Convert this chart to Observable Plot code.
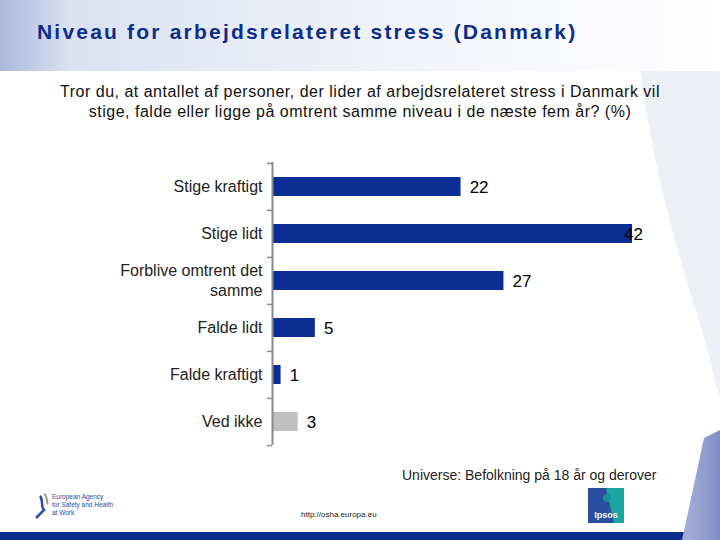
<!DOCTYPE html>
<html>
<head>
<meta charset="utf-8">
<script src="https://cdn.jsdelivr.net/npm/d3@7"></script>
<script src="https://cdn.jsdelivr.net/npm/@observablehq/plot@0.6"></script>
<style>
  html, body { margin: 0; padding: 0; }
  body { width: 720px; height: 540px; position: relative; overflow: hidden; background: #fff; font-family: "Liberation Sans", Arial, sans-serif; }
  #bg { position: absolute; left: 0; top: 0; }
  .abs { position: absolute; }
  #title { left: 37px; top: 20px; font-size: 21px; letter-spacing: 2.2px; font-weight: bold; color: #0b2d8c; white-space: nowrap; }
  #subtitle { left: 0; width: 720px; top: 82px; text-align: center; font-size: 16px; letter-spacing: 0.5px; line-height: 20px; color: #111; }
  #chart { left: 0; top: 150px; }
  #universe { left: 402px; top: 467px; font-size: 14px; color: #222; white-space: nowrap; }
  #url { left: 301px; top: 510px; font-size: 8px; color: #222; }
</style>
</head>
<body>
<svg id="bg" width="720" height="540">
  <defs>
    <linearGradient id="hdr" x1="0" x2="1" y1="0" y2="0">
      <stop offset="0" stop-color="#aab8dc"/>
      <stop offset="0.1" stop-color="#dce2f2"/>
      <stop offset="0.6" stop-color="#f3f5fb"/>
      <stop offset="1" stop-color="#ffffff"/>
    </linearGradient>
    <linearGradient id="corner" x1="0" x2="1" y1="0" y2="0">
      <stop offset="0" stop-color="#a6b1da"/>
      <stop offset="1" stop-color="#7f8fc6"/>
    </linearGradient>
  </defs>
  <rect x="0" y="0" width="720" height="71" fill="url(#hdr)"/>
  <path d="M640,71 C655,180 680,260 705,340 L720,400 L720,71 Z" fill="#eef0f8"/>
  <rect x="0" y="532" width="720" height="8" fill="#0a2d8c"/>
  <path d="M704,438 L720,430 L720,540 L682,540 Z" fill="url(#corner)"/>
  <!-- Ipsos logo -->
  <rect x="588" y="488" width="36" height="35" fill="#2a4ea0"/>
  <path d="M606,488 L624,488 L624,523 L614,523 Z" fill="#1aa6a0"/>
  <circle cx="607" cy="498" r="4" fill="#1a8f99"/>
  <text x="606" y="518" font-size="9" font-weight="bold" fill="#fff" text-anchor="middle" font-family="Liberation Sans">Ipsos</text>
  <!-- EU-OSHA mark -->
  <path d="M40,496 C44,500 40,506 44,510 C40,514 38,516 36,518" stroke="#2a4ea0" stroke-width="2.5" fill="none"/>
  <path d="M44,494 C48,496 46,502 48,504" stroke="#999" stroke-width="2" fill="none"/>
  <text x="52" y="499" font-size="6.5" fill="#2a4ea0" font-family="Liberation Sans">European Agency</text>
  <text x="52" y="507" font-size="6.5" fill="#2a4ea0" font-family="Liberation Sans">for Safety and Health</text>
  <text x="52" y="515" font-size="6.5" fill="#2a4ea0" font-family="Liberation Sans">at Work</text>
</svg>
<div id="title" class="abs">Niveau for arbejdsrelateret stress (Danmark)</div>
<div id="subtitle" class="abs">Tror du, at antallet af personer, der lider af arbejdsrelateret stress i Danmark vil<br>stige, falde eller ligge på omtrent samme niveau i de næste fem år? (%)</div>
<div id="chart" class="abs"></div>
<div id="universe" class="abs">Universe: Befolkning på 18 år og derover</div>
<div id="url" class="abs">http://osha.europa.eu</div>
<script>
const categories = ["Stige kraftigt", "Stige lidt", "Forblive omtrent det samme", "Falde lidt", "Falde kraftigt", "Ved ikke"];
const values = [22, 42, 27, 5, 1, 3];
const barColors = ["#0b2e94", "#0b2e94", "#0b2e94", "#0b2e94", "#0b2e94", "#c0c0c0"];
const tickLabels = ["Stige kraftigt", "Stige lidt", "Forblive omtrent det\nsamme", "Falde lidt", "Falde kraftigt", "Ved ikke"];

const data = categories.map((c, i) => ({category: c, value: values[i], color: barColors[i], label: tickLabels[i]}));
const labelOf = new Map(data.map(d => [d.category, d.label]));

const mt = 12, mb = 15, h = 310;
const step = (h - mt - mb) / categories.length;

const chart = Plot.plot({
  width: 720,
  height: h,
  marginLeft: 272,
  marginRight: 88,
  marginTop: mt,
  marginBottom: mb,
  style: {fontFamily: "Liberation Sans, Arial, sans-serif", background: "transparent"},
  x: {domain: [0, 42], axis: null},
  y: {domain: categories, paddingInner: 0.6, paddingOuter: 0.3, label: null},
  marks: [
    Plot.barX(data, {x: "value", y: "category", fill: "color"}),
    Plot.ruleX([0], {stroke: "#8a8a8a", strokeWidth: 2}),
    Plot.ruleY(categories, {y: d => d, x1: -0.6, x2: 0, dy: -step / 2, stroke: "#8a8a8a", strokeWidth: 1.5}),
    Plot.ruleY([categories[categories.length - 1]], {y: d => d, x1: -0.6, x2: 0, dy: step / 2, stroke: "#8a8a8a", strokeWidth: 1.5}),
    Plot.axisY({tickSize: 0, tickPadding: 10, fontSize: 16, fill: "#222", tickFormat: d => labelOf.get(d), lineHeight: 1.25, label: null, dy: -1}),
    Plot.text(data, {x: d => Math.min(d.value + 1, 41), y: "category", text: d => String(d.value), textAnchor: "start", fontSize: 17, fill: "#000", dy: 1})
  ]
});
document.getElementById("chart").appendChild(chart);
</script>
</body>
</html>
